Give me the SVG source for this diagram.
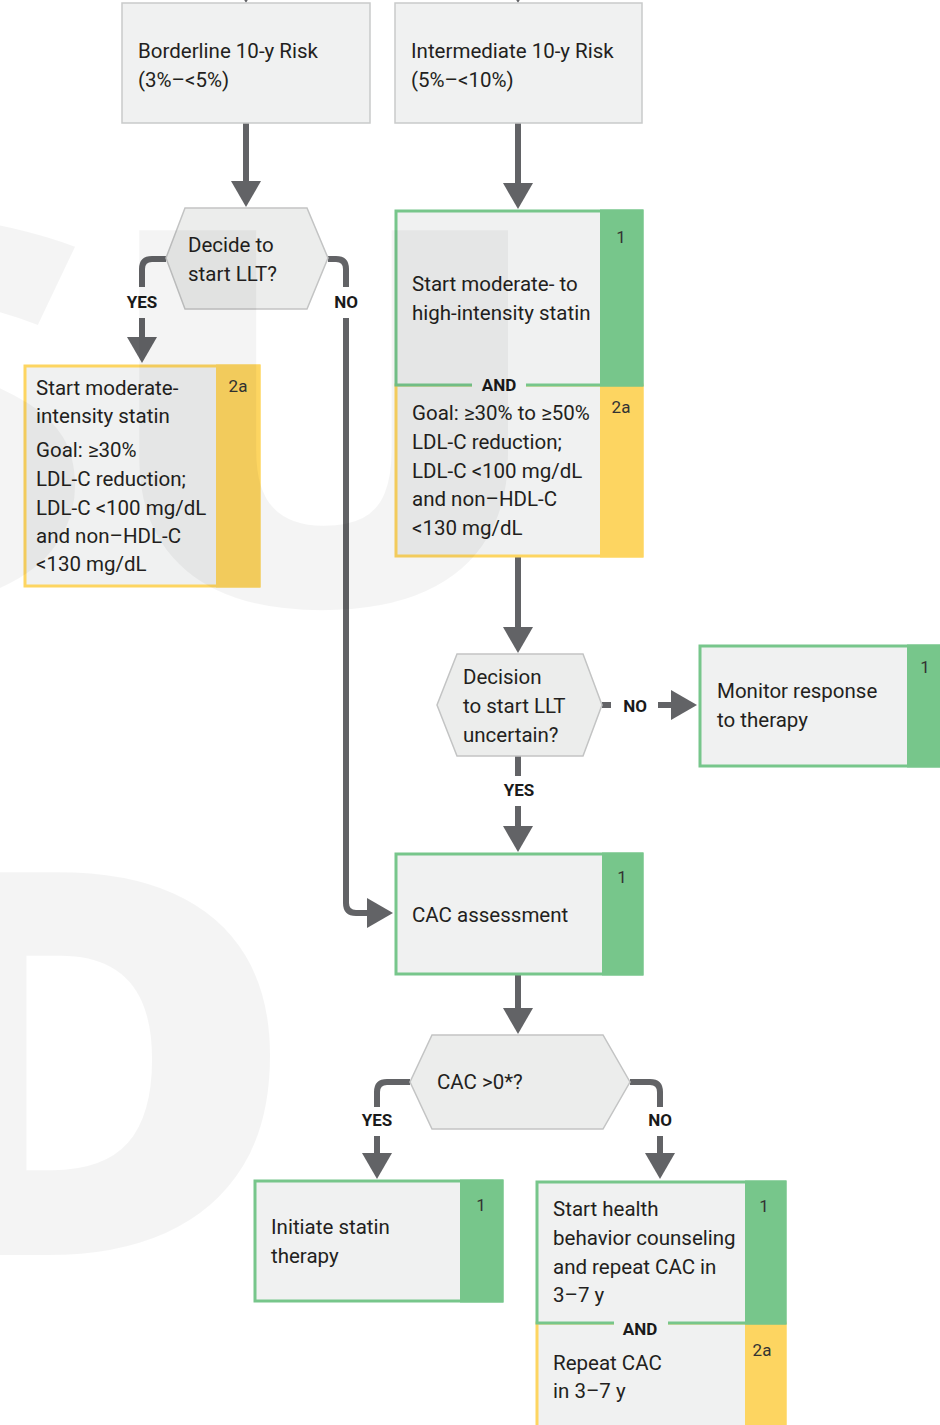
<svg xmlns="http://www.w3.org/2000/svg" width="940" height="1425" viewBox="0 0 940 1425">
  <defs>
    <marker id="head" viewBox="0 0 26 30" refX="0" refY="15" markerWidth="26" markerHeight="30" markerUnits="userSpaceOnUse" orient="auto">
      <path d="M0,0 L26,15 L0,30 z" fill="#626366"/>
    </marker>
    <style>
      .txt { font-family: Roboto, "Liberation Sans", sans-serif; font-size: 20.5px; fill: #231f20; }
      .lbl { font-family: Roboto, "Liberation Sans", sans-serif; font-size: 17px; font-weight: bold; fill: #1a1a1a; text-anchor: middle; }
      .cls { font-family: Roboto, "Liberation Sans", sans-serif; font-size: 17px; fill: #333333; text-anchor: middle; }
      .risk { fill: #f0f1f1; stroke: #c9caca; stroke-width: 1.5; }
      .hex { fill: #ecedec; stroke: #c3c4c4; stroke-width: 1.5; }
      .gbox { fill: #f0f1f1; stroke: #77c68b; stroke-width: 3; }
      .ybox { fill: #f0f1f1; stroke: #fdd561; stroke-width: 3; }
      .gbar { fill: #77c68b; }
      .ybar { fill: #fdd561; }
      .andbg { fill: #f0f1f1; }
      .conn { fill: none; stroke: #626366; stroke-width: 6; }
      .wm { font-family: "Open Sans", "DejaVu Sans", sans-serif; font-weight: 800; fill: #000000; fill-opacity: 0.045; }
    </style>
  </defs>

  <rect x="0" y="0" width="940" height="1425" fill="#ffffff"/>

  <!-- connectors -->
  <g id="connectors">
    <path class="conn" d="M246,-40 V-23" marker-end="url(#head)"/>
    <path class="conn" d="M518,-40 V-23" marker-end="url(#head)"/>
    <path class="conn" d="M246,123 V181" marker-end="url(#head)"/>
    <path class="conn" d="M166,259 H152 Q142,259 142,269 V287"/>
    <path class="conn" d="M142,318 V337" marker-end="url(#head)"/>
    <path class="conn" d="M328,259 H336 Q346,259 346,269 V287"/>
    <path class="conn" d="M346,318 V903 Q346,913 356,913 H367" marker-end="url(#head)"/>
    <path class="conn" d="M518,123 V183" marker-end="url(#head)"/>
    <path class="conn" d="M518,557 V627" marker-end="url(#head)"/>
    <path class="conn" d="M602,705 H611"/>
    <path class="conn" d="M658,705 H671" marker-end="url(#head)"/>
    <path class="conn" d="M518,756 V776"/>
    <path class="conn" d="M518,806 V826" marker-end="url(#head)"/>
    <path class="conn" d="M518,975 V1008" marker-end="url(#head)"/>
    <path class="conn" d="M410,1082 H387 Q377,1082 377,1092 V1107"/>
    <path class="conn" d="M377,1136 V1153" marker-end="url(#head)"/>
    <path class="conn" d="M630,1082 H650 Q660,1082 660,1092 V1107"/>
    <path class="conn" d="M660,1136 V1153" marker-end="url(#head)"/>
    <text class="lbl" x="142" y="308">YES</text>
    <text class="lbl" x="346" y="308">NO</text>
    <text class="lbl" x="635" y="712">NO</text>
    <text class="lbl" x="519" y="796">YES</text>
    <text class="lbl" x="377" y="1126">YES</text>
    <text class="lbl" x="660" y="1126">NO</text>
  </g>

  <!-- risk categories -->
  <g id="borderline">
    <rect class="risk" x="122" y="3" width="248" height="120"/>
    <text class="txt" x="138" y="58">Borderline 10-y Risk</text>
    <text class="txt" x="138" y="87">(3%–&lt;5%)</text>
  </g>
  <g id="intermediate">
    <rect class="risk" x="395" y="3" width="247" height="120"/>
    <text class="txt" x="411" y="58">Intermediate 10-y Risk</text>
    <text class="txt" x="411" y="87">(5%–&lt;10%)</text>
  </g>

  <!-- borderline path -->
  <g id="decide-llt">
    <polygon class="hex" points="185,208 307,208 328,258 307,309 185,309 166,258"/>
    <text class="txt" x="188" y="252">Decide to</text>
    <text class="txt" x="188" y="281">start LLT?</text>
  </g>
  <g id="moderate-statin">
    <rect class="ybox" x="25" y="366" width="234" height="220"/>
    <rect class="ybar" x="216" y="364.5" width="44.5" height="223"/>
    <text class="cls" x="238" y="392">2a</text>
    <text class="txt" x="36" y="395">Start moderate-</text>
    <text class="txt" x="36" y="423">intensity statin</text>
    <text class="txt" x="36" y="457">Goal: ≥30%</text>
    <text class="txt" x="36" y="486">LDL-C reduction;</text>
    <text class="txt" x="36" y="515">LDL-C &lt;100 mg/dL</text>
    <text class="txt" x="36" y="543">and non–HDL-C</text>
    <text class="txt" x="36" y="571">&lt;130 mg/dL</text>
  </g>

  <!-- intermediate path -->
  <g id="mod-high-statin">
    <rect class="ybox" x="396" y="385" width="246" height="171"/>
    <rect class="ybar" x="600" y="385" width="43.5" height="172.5"/>
    <rect class="gbox" x="396" y="211" width="246" height="174"/>
    <rect class="gbar" x="600" y="209.5" width="43.5" height="177"/>
    <rect class="andbg" x="472" y="376" width="54" height="18"/>
    <text class="lbl" x="499" y="391">AND</text>
    <text class="cls" x="621" y="243">1</text>
    <text class="cls" x="621" y="413">2a</text>
    <text class="txt" x="412" y="291">Start moderate- to</text>
    <text class="txt" x="412" y="320">high-intensity statin</text>
    <text class="txt" x="412" y="420">Goal: ≥30% to ≥50%</text>
    <text class="txt" x="412" y="449">LDL-C reduction;</text>
    <text class="txt" x="412" y="478">LDL-C &lt;100 mg/dL</text>
    <text class="txt" x="412" y="506">and non–HDL-C</text>
    <text class="txt" x="412" y="535">&lt;130 mg/dL</text>
  </g>
  <g id="decision-uncertain">
    <polygon class="hex" points="457,654 583,654 602,705 583,756 457,756 437,705"/>
    <text class="txt" x="463" y="684">Decision</text>
    <text class="txt" x="463" y="713">to start LLT</text>
    <text class="txt" x="463" y="742">uncertain?</text>
  </g>
  <g id="monitor">
    <rect class="gbox" x="700" y="646" width="250" height="120"/>
    <rect class="gbar" x="907" y="644.5" width="45" height="123"/>
    <text class="cls" x="925" y="673">1</text>
    <text class="txt" x="717" y="698">Monitor response</text>
    <text class="txt" x="717" y="727">to therapy</text>
  </g>
  <g id="cac-assessment">
    <rect class="gbox" x="396" y="854" width="246" height="120"/>
    <rect class="gbar" x="602" y="852.5" width="41.5" height="123"/>
    <text class="cls" x="622" y="883">1</text>
    <text class="txt" x="412" y="922">CAC assessment</text>
  </g>
  <g id="cac-positive">
    <polygon class="hex" points="432,1035 603,1035 630,1082 603,1129 432,1129 410,1082"/>
    <text class="txt" x="437" y="1089">CAC &gt;0*?</text>
  </g>
  <g id="initiate-statin">
    <rect class="gbox" x="255" y="1181" width="247" height="120"/>
    <rect class="gbar" x="460" y="1179.5" width="43.5" height="123"/>
    <text class="cls" x="481" y="1211">1</text>
    <text class="txt" x="271" y="1234">Initiate statin</text>
    <text class="txt" x="271" y="1263">therapy</text>
  </g>
  <g id="repeat-cac">
    <rect class="ybox" x="537" y="1323" width="248" height="120"/>
    <rect class="ybar" x="745" y="1323" width="41.5" height="122"/>
    <rect class="gbox" x="537" y="1182" width="248" height="141"/>
    <rect class="gbar" x="745" y="1180.5" width="41.5" height="144"/>
    <rect class="andbg" x="614" y="1314" width="54" height="18"/>
    <text class="lbl" x="640" y="1335">AND</text>
    <text class="cls" x="764" y="1212">1</text>
    <text class="cls" x="762" y="1356">2a</text>
    <text class="txt" x="553" y="1216">Start health</text>
    <text class="txt" x="553" y="1245">behavior counseling</text>
    <text class="txt" x="553" y="1274">and repeat CAC in</text>
    <text class="txt" x="553" y="1302">3–7 y</text>
    <text class="txt" x="553" y="1370">Repeat CAC</text>
    <text class="txt" x="553" y="1398">in 3–7 y</text>
  </g>

  <!-- faint background lettering, laid over the chart -->
  <g id="watermark">
    <text class="wm" font-size="525" text-anchor="end" transform="translate(96,600) scale(1.2,1)">S</text>
    <text class="wm" font-size="525" transform="translate(95,605) scale(1.15,1)">U</text>
    <text class="wm" font-size="536" text-anchor="end" transform="translate(300,1255) scale(1.1,1)">D</text>
  </g>
</svg>
